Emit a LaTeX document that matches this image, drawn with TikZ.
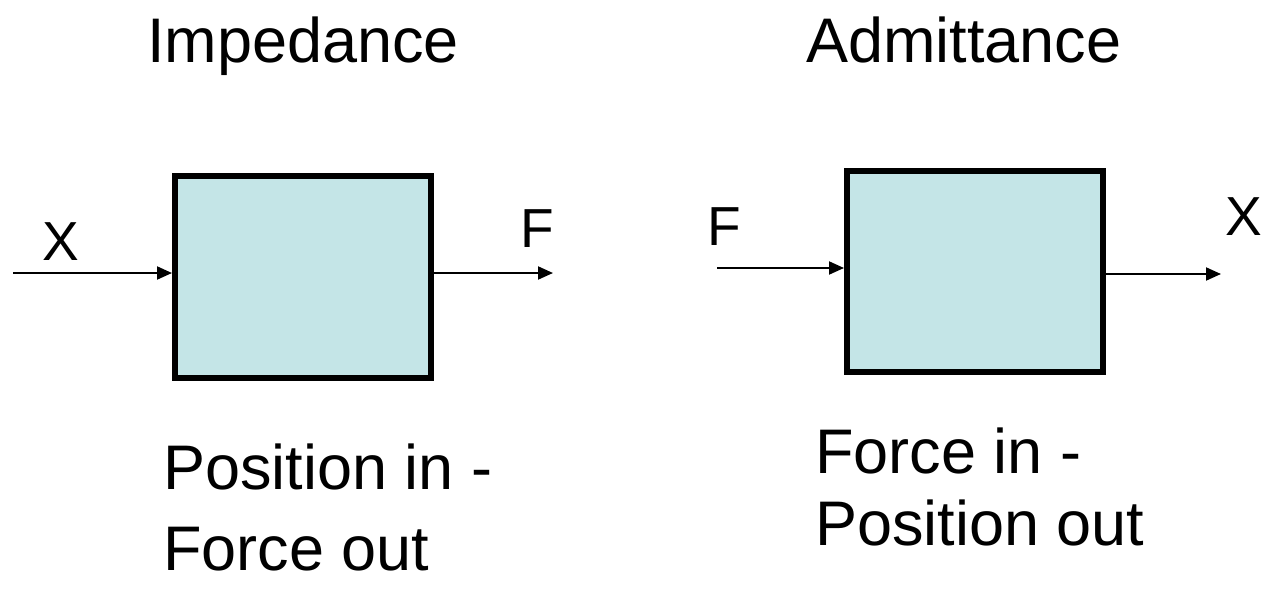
\documentclass[tikz,border=0pt]{standalone}
\usepackage{fontspec}
\setmainfont{Liberation Sans}
\usetikzlibrary{arrows.meta}
\definecolor{boxfill}{RGB}{196,229,231}
\begin{document}
\begin{tikzpicture}[x=1pt,y=-1pt,
  blk/.style={draw=black,line width=6pt,fill=boxfill,inner sep=0pt,minimum width=256pt,minimum height=202pt},
  arr/.style={line width=2pt,-{Triangle[length=15pt,width=13pt]}},
  title/.style={anchor=base west,inner sep=0pt,font=\fontsize{63}{70}\selectfont},
  sig/.style={anchor=base west,inner sep=0pt,font=\fontsize{55}{60}\selectfont},
  big/.style={anchor=base west,inner sep=0pt,font=\fontsize{63}{70}\selectfont}]
\useasboundingbox (0,0) rectangle (1263,592);
% titles
\node[title] (t1) at (147,62) {Impedance};
\node[title] (t2) at (806,62) {Admittance};
% boxes
\node[blk] (lbox) at (303,277) {};
\node[blk,minimum height=201pt] (rbox) at (975,271.5) {};
% connector ends
\coordinate (lin) at (13,273);
\coordinate (lout) at (553,273);
\coordinate (rin) at (717,268);
\coordinate (rout) at (1221,274);
\draw[arr] (lin) -- (lin -| lbox.west);
\draw[arr] (lbox.east |- lout) -- (lout);
\draw[arr] (rin) -- (rin -| rbox.west);
\draw[arr] (rbox.east |- rout) -- (rout);
% signal labels
\node[sig] (lx) at (42,260) {X};
\node[sig] (lf) at (520,247) {F};
\node[sig] (rf) at (707,245) {F};
\node[sig] (rx) at (1225,235) {X};
% captions
\node[big] (c1a) at (163,489) {Position in -};
\node[big] (c1b) at (163,570) {Force out};
\node[big] (c2a) at (815,473) {Force in -};
\node[big] (c2b) at (815,545) {Position out};
\end{tikzpicture}
\end{document}
